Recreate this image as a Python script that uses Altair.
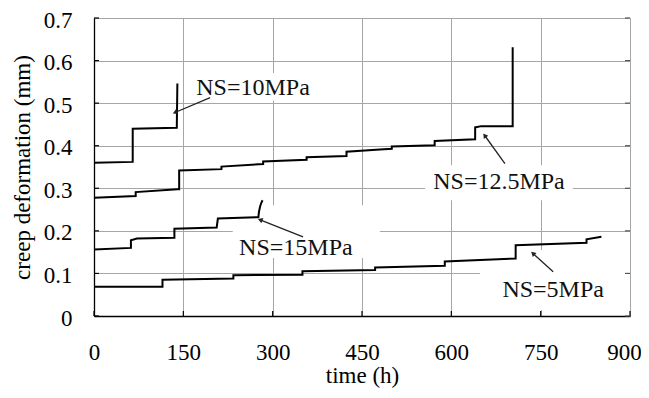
import math
import altair as alt
import pandas as pd

# ---- data ----
t_10 = [0, 65, 65, 139, 139, 140]
y_10 = [0.360, 0.362, 0.440, 0.442, 0.442, 0.546]

t_125 = [0, 70, 70, 140, 143, 143, 214, 214, 284, 284, 357, 357, 424, 424, 480, 500, 500,
         572, 572, 640, 640, 650, 703, 703]
y_125 = [0.278, 0.282, 0.291, 0.298, 0.298, 0.342, 0.345, 0.351, 0.357, 0.363, 0.367, 0.373,
         0.376, 0.386, 0.391, 0.393, 0.398, 0.401, 0.411, 0.415, 0.443, 0.446, 0.446, 0.631]

t_15 = [0, 62, 62, 72, 135, 135, 206, 208, 276, 277, 279, 281, 283]
y_15 = [0.156, 0.160, 0.178, 0.182, 0.184, 0.205, 0.208, 0.229, 0.232, 0.245, 0.258, 0.266, 0.272]

t_5 = [0, 115, 115, 234, 234, 350, 350, 472, 472, 589, 589, 708, 708, 827, 827, 852]
y_5 = [0.069, 0.069, 0.085, 0.088, 0.096, 0.097, 0.105, 0.108, 0.114, 0.118, 0.128, 0.135,
       0.166, 0.172, 0.180, 0.186]

series_names = ["NS=10MPa", "NS=12.5MPa", "NS=15MPa", "NS=5MPa"]
series_t = [t_10, t_125, t_15, t_5]
series_y = [y_10, y_125, y_15, y_5]

x_ticks = [0, 150, 300, 450, 600, 750, 900]
y_ticks = [0, 0.1, 0.2, 0.3, 0.4, 0.5, 0.6, 0.7]

# annotation: label, text x/y, arrow start, arrow end (data units)
ann_label = ["NS=10MPa", "NS=12.5MPa", "NS=15MPa", "NS=5MPa"]
ann_tx = [267, 680, 339, 771]
ann_ty = [0.536, 0.314, 0.159, 0.061]
ann_x0 = [195, 690, 351, 771]
ann_y0 = [0.513, 0.358, 0.186, 0.104]
ann_x1 = [136, 656, 279, 737]
ann_y1 = [0.478, 0.424, 0.226, 0.147]
# white boxes behind labels (data units)
box_x0 = [162, 556, 233, 648]
box_x1 = [370, 804, 480, 892]
box_y0 = [0.506, 0.272, 0.136, 0.014]
box_y1 = [0.571, 0.354, 0.260, 0.155]

W, H = 536, 298
PX_X = W / 900.0
PX_Y = H / 0.7
FONT = "Liberation Serif"

rows = []
for name, ts, ys in zip(series_names, series_t, series_y):
    for i, (t, y) in enumerate(zip(ts, ys)):
        rows.append({"series": name, "t": t, "y": y, "order": i})
df = pd.DataFrame(rows)

ann = pd.DataFrame({
    "label": ann_label, "tx": ann_tx, "ty": ann_ty,
    "x0": ann_x0, "y0": ann_y0, "x1": ann_x1, "y1": ann_y1,
    "bx0": box_x0, "bx1": box_x1, "by0": box_y0, "by1": box_y1,
})
ann["angle"] = [
    (math.degrees(math.atan2((b - a) * PX_X, (d - c) * PX_Y)) + 360) % 360
    for a, b, c, d in zip(ann_x0, ann_x1, ann_y0, ann_y1)
]

xs = alt.Scale(domain=[0, 900], nice=False)
ys = alt.Scale(domain=[0, 0.7], nice=False)

x_axis = alt.Axis(values=x_ticks, grid=True, gridColor="#a6a6a6", gridWidth=1,
                  ticks=False, domainColor="#000000", domainWidth=1.3,
                  labelFont=FONT, labelFontSize=23, labelColor="#000000",
                  labelPadding=25, titleFont=FONT, titleFontSize=23,
                  titleFontWeight="normal", titleColor="#000000", titlePadding=0,
                  labelFlush=False,
                  labelOffset={"condition": {"test": "datum.value == 900", "value": -6},
                               "value": 0})
y_axis = alt.Axis(values=y_ticks, grid=True, gridColor="#a6a6a6", gridWidth=1,
                  ticks=False, domainColor="#000000", domainWidth=1.3,
                  labelFont=FONT, labelFontSize=23, labelColor="#000000",
                  labelPadding=22, labelOffset=2, titleFont=FONT, titleFontSize=23,
                  titleFontWeight="normal", titleColor="#000000", titlePadding=9,
                  labelFlush=False, format=".1~f")

lines = alt.Chart(df).mark_line(color="black", strokeWidth=2).encode(
    x=alt.X("t:Q", scale=xs, axis=x_axis, title="time (h)"),
    y=alt.Y("y:Q", scale=ys, axis=y_axis, title="creep deformation (mm)"),
    detail="series:N",
    order="order:Q",
)

boxes = alt.Chart(ann).mark_rect(color="white").encode(
    x=alt.X("bx0:Q", scale=xs), x2="bx1:Q",
    y=alt.Y("by0:Q", scale=ys), y2="by1:Q",
)

tick_len_t = 5 / PX_X
tick_len_y = 5 / PX_Y
xt = pd.DataFrame({"t": x_ticks, "y0": 0.0, "y1": tick_len_y})
yt = pd.DataFrame({"y": y_ticks, "t0": 0.0, "t1": tick_len_t,
                   "r0": 900 - tick_len_t, "r1": 900.0})
xticks = alt.Chart(xt).mark_rule(color="black", strokeWidth=1.2).encode(
    x=alt.X("t:Q", scale=xs), y=alt.Y("y0:Q", scale=ys), y2="y1:Q")
yticks = alt.Chart(yt).mark_rule(color="black", strokeWidth=1.2).encode(
    y=alt.Y("y:Q", scale=ys), x=alt.X("t0:Q", scale=xs), x2="t1:Q")
rticks = alt.Chart(yt).mark_rule(color="#555555", strokeWidth=1.2).encode(
    y=alt.Y("y:Q", scale=ys), x=alt.X("r0:Q", scale=xs), x2="r1:Q")

arrows = alt.Chart(ann).mark_rule(color="#222222", strokeWidth=1.3).encode(
    x=alt.X("x0:Q", scale=xs), y=alt.Y("y0:Q", scale=ys), x2="x1:Q", y2="y1:Q")
heads = alt.Chart(ann).mark_point(shape="triangle-up", filled=True, color="#222222",
                                  size=30, opacity=1).encode(
    x=alt.X("x1:Q", scale=xs), y=alt.Y("y1:Q", scale=ys), angle=alt.Angle("angle:Q", scale=None))
texts = alt.Chart(ann).mark_text(font=FONT, fontSize=24, color="#111111",
                                 align="center", baseline="middle").encode(
    x=alt.X("tx:Q", scale=xs), y=alt.Y("ty:Q", scale=ys), text="label:N")

chart = alt.layer(boxes, lines, xticks, yticks, rticks, arrows, heads, texts).properties(
    width=W, height=H,
    autosize=alt.AutoSizeParams(type="none"),
    padding={"left": 86, "top": 10, "right": 11, "bottom": 74},
).configure_view(stroke="#a6a6a6", strokeWidth=1.3).configure(background="white")

chart.save("out.html", embed_options={"renderer": "svg", "actions": False})
